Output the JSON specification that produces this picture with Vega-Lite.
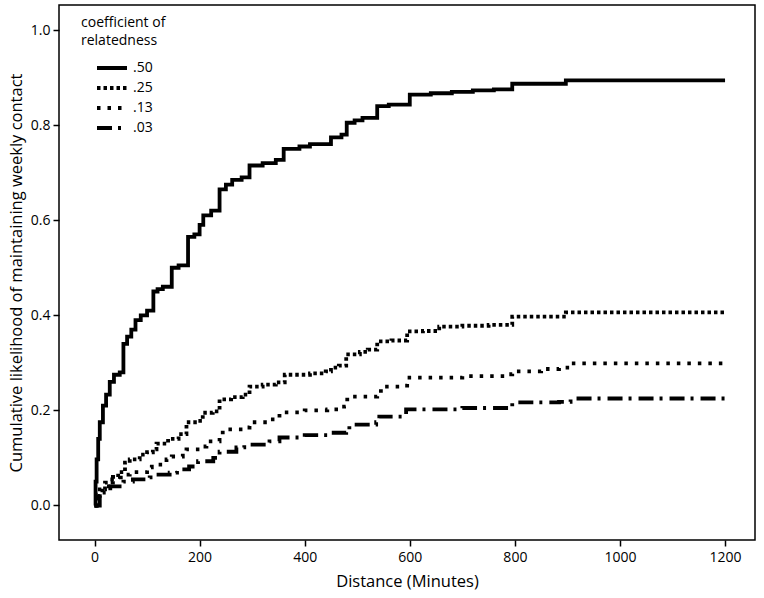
{
  "$schema": "https://vega.github.io/schema/vega-lite/v6.json",
  "width": 696,
  "height": 535,
  "autosize": {"type": "none"},
  "padding": {"left": 59, "top": 5, "right": 9, "bottom": 58},
  "background": "white",
  "config": {
    "font": "Open Sans",
    "view": {"stroke": "black", "strokeWidth": 1.5},
    "axis": {
      "grid": false,
      "domain": false,
      "tickColor": "black",
      "tickWidth": 1.5,
      "tickSize": 6,
      "labelColor": "black",
      "labelFontSize": 14,
      "titleColor": "black",
      "titleFontSize": 16.5,
      "titleFontWeight": "normal"
    }
  },
  "data": {
    "values": [
      {"c": ".50", "d": 0, "p": 0}, {"c": ".50", "d": 2, "p": 0.05}, {"c": ".50", "d": 4, "p": 0.097}, {"c": ".50", "d": 7, "p": 0.14},
      {"c": ".50", "d": 10, "p": 0.175}, {"c": ".50", "d": 16, "p": 0.21}, {"c": ".50", "d": 22, "p": 0.233}, {"c": ".50", "d": 29, "p": 0.26},
      {"c": ".50", "d": 37, "p": 0.275}, {"c": ".50", "d": 48, "p": 0.28}, {"c": ".50", "d": 55, "p": 0.34}, {"c": ".50", "d": 62, "p": 0.355},
      {"c": ".50", "d": 70, "p": 0.37}, {"c": ".50", "d": 78, "p": 0.39}, {"c": ".50", "d": 88, "p": 0.4}, {"c": ".50", "d": 100, "p": 0.41},
      {"c": ".50", "d": 112, "p": 0.45}, {"c": ".50", "d": 120, "p": 0.455}, {"c": ".50", "d": 130, "p": 0.46}, {"c": ".50", "d": 147, "p": 0.5},
      {"c": ".50", "d": 160, "p": 0.505}, {"c": ".50", "d": 178, "p": 0.565}, {"c": ".50", "d": 190, "p": 0.57}, {"c": ".50", "d": 200, "p": 0.59},
      {"c": ".50", "d": 207, "p": 0.61}, {"c": ".50", "d": 222, "p": 0.62}, {"c": ".50", "d": 238, "p": 0.665}, {"c": ".50", "d": 250, "p": 0.675},
      {"c": ".50", "d": 262, "p": 0.685}, {"c": ".50", "d": 280, "p": 0.69}, {"c": ".50", "d": 295, "p": 0.715}, {"c": ".50", "d": 320, "p": 0.72},
      {"c": ".50", "d": 345, "p": 0.727}, {"c": ".50", "d": 360, "p": 0.75}, {"c": ".50", "d": 390, "p": 0.755}, {"c": ".50", "d": 410, "p": 0.76},
      {"c": ".50", "d": 450, "p": 0.774}, {"c": ".50", "d": 470, "p": 0.78}, {"c": ".50", "d": 480, "p": 0.805}, {"c": ".50", "d": 495, "p": 0.81},
      {"c": ".50", "d": 510, "p": 0.815}, {"c": ".50", "d": 538, "p": 0.84}, {"c": ".50", "d": 560, "p": 0.843}, {"c": ".50", "d": 600, "p": 0.864},
      {"c": ".50", "d": 640, "p": 0.867}, {"c": ".50", "d": 680, "p": 0.87}, {"c": ".50", "d": 720, "p": 0.873}, {"c": ".50", "d": 760, "p": 0.875},
      {"c": ".50", "d": 795, "p": 0.887}, {"c": ".50", "d": 897, "p": 0.894}, {"c": ".50", "d": 1200, "p": 0.894},

      {"c": ".25", "d": 0, "p": 0}, {"c": ".25", "d": 3, "p": 0.02}, {"c": ".25", "d": 10, "p": 0.034}, {"c": ".25", "d": 20, "p": 0.048},
      {"c": ".25", "d": 35, "p": 0.06}, {"c": ".25", "d": 45, "p": 0.07}, {"c": ".25", "d": 58, "p": 0.09}, {"c": ".25", "d": 67, "p": 0.097},
      {"c": ".25", "d": 86, "p": 0.107}, {"c": ".25", "d": 100, "p": 0.112}, {"c": ".25", "d": 111, "p": 0.118}, {"c": ".25", "d": 118, "p": 0.13},
      {"c": ".25", "d": 140, "p": 0.14}, {"c": ".25", "d": 160, "p": 0.15}, {"c": ".25", "d": 175, "p": 0.175}, {"c": ".25", "d": 195, "p": 0.178},
      {"c": ".25", "d": 206, "p": 0.195}, {"c": ".25", "d": 225, "p": 0.198}, {"c": ".25", "d": 238, "p": 0.223}, {"c": ".25", "d": 260, "p": 0.228},
      {"c": ".25", "d": 282, "p": 0.233}, {"c": ".25", "d": 295, "p": 0.25}, {"c": ".25", "d": 320, "p": 0.254}, {"c": ".25", "d": 345, "p": 0.259},
      {"c": ".25", "d": 362, "p": 0.275}, {"c": ".25", "d": 410, "p": 0.278}, {"c": ".25", "d": 440, "p": 0.282}, {"c": ".25", "d": 450, "p": 0.29},
      {"c": ".25", "d": 465, "p": 0.294}, {"c": ".25", "d": 479, "p": 0.318}, {"c": ".25", "d": 505, "p": 0.323}, {"c": ".25", "d": 520, "p": 0.328},
      {"c": ".25", "d": 538, "p": 0.345}, {"c": ".25", "d": 565, "p": 0.347}, {"c": ".25", "d": 595, "p": 0.366}, {"c": ".25", "d": 625, "p": 0.367},
      {"c": ".25", "d": 656, "p": 0.376}, {"c": ".25", "d": 700, "p": 0.378}, {"c": ".25", "d": 750, "p": 0.38}, {"c": ".25", "d": 795, "p": 0.397},
      {"c": ".25", "d": 897, "p": 0.406}, {"c": ".25", "d": 1200, "p": 0.406},

      {"c": ".13", "d": 0, "p": 0}, {"c": ".13", "d": 5, "p": 0.023}, {"c": ".13", "d": 15, "p": 0.04}, {"c": ".13", "d": 30, "p": 0.055},
      {"c": ".13", "d": 50, "p": 0.065}, {"c": ".13", "d": 67, "p": 0.07}, {"c": ".13", "d": 100, "p": 0.08}, {"c": ".13", "d": 109, "p": 0.086},
      {"c": ".13", "d": 137, "p": 0.097}, {"c": ".13", "d": 147, "p": 0.103}, {"c": ".13", "d": 168, "p": 0.111}, {"c": ".13", "d": 175, "p": 0.118},
      {"c": ".13", "d": 200, "p": 0.124}, {"c": ".13", "d": 213, "p": 0.135}, {"c": ".13", "d": 238, "p": 0.143}, {"c": ".13", "d": 244, "p": 0.16},
      {"c": ".13", "d": 282, "p": 0.164}, {"c": ".13", "d": 295, "p": 0.175}, {"c": ".13", "d": 333, "p": 0.181}, {"c": ".13", "d": 352, "p": 0.196},
      {"c": ".13", "d": 400, "p": 0.2}, {"c": ".13", "d": 443, "p": 0.202}, {"c": ".13", "d": 475, "p": 0.208}, {"c": ".13", "d": 481, "p": 0.229},
      {"c": ".13", "d": 538, "p": 0.233}, {"c": ".13", "d": 545, "p": 0.25}, {"c": ".13", "d": 586, "p": 0.252}, {"c": ".13", "d": 595, "p": 0.269},
      {"c": ".13", "d": 700, "p": 0.272}, {"c": ".13", "d": 789, "p": 0.276}, {"c": ".13", "d": 795, "p": 0.282}, {"c": ".13", "d": 850, "p": 0.287},
      {"c": ".13", "d": 884, "p": 0.29}, {"c": ".13", "d": 905, "p": 0.299}, {"c": ".13", "d": 1200, "p": 0.299},

      {"c": ".03", "d": 0, "p": 0}, {"c": ".03", "d": 10, "p": 0.027}, {"c": ".03", "d": 30, "p": 0.04}, {"c": ".03", "d": 55, "p": 0.05},
      {"c": ".03", "d": 73, "p": 0.055}, {"c": ".03", "d": 105, "p": 0.059}, {"c": ".03", "d": 118, "p": 0.065}, {"c": ".03", "d": 143, "p": 0.069},
      {"c": ".03", "d": 157, "p": 0.076}, {"c": ".03", "d": 180, "p": 0.082}, {"c": ".03", "d": 197, "p": 0.093}, {"c": ".03", "d": 226, "p": 0.1},
      {"c": ".03", "d": 238, "p": 0.113}, {"c": ".03", "d": 270, "p": 0.122}, {"c": ".03", "d": 285, "p": 0.128}, {"c": ".03", "d": 333, "p": 0.135},
      {"c": ".03", "d": 352, "p": 0.143}, {"c": ".03", "d": 400, "p": 0.148}, {"c": ".03", "d": 443, "p": 0.153}, {"c": ".03", "d": 479, "p": 0.156},
      {"c": ".03", "d": 485, "p": 0.17}, {"c": ".03", "d": 536, "p": 0.175}, {"c": ".03", "d": 542, "p": 0.187}, {"c": ".03", "d": 586, "p": 0.189},
      {"c": ".03", "d": 593, "p": 0.202}, {"c": ".03", "d": 700, "p": 0.205}, {"c": ".03", "d": 789, "p": 0.208}, {"c": ".03", "d": 795, "p": 0.217},
      {"c": ".03", "d": 884, "p": 0.218}, {"c": ".03", "d": 906, "p": 0.225}, {"c": ".03", "d": 1200, "p": 0.225}
    ]
  },
  "mark": {"type": "line", "interpolate": "step-after", "color": "black", "strokeWidth": 3.8, "strokeCap": "butt"},
  "encoding": {
    "x": {
      "field": "d",
      "type": "quantitative",
      "scale": {"domain": [-67.6, 1257], "nice": false, "zero": false},
      "axis": {"values": [0, 200, 400, 600, 800, 1000, 1200], "format": "d", "title": "Distance (Minutes)", "labelPadding": 4, "titlePadding": 9}
    },
    "y": {
      "field": "p",
      "type": "quantitative",
      "scale": {"domain": [-0.0726, 1.0526], "nice": false, "zero": false},
      "axis": {"values": [0, 0.2, 0.4, 0.6, 0.8, 1.0], "format": ".1f", "title": "Cumulative likelihood of maintaining weekly contact", "labelPadding": 3, "titlePadding": 6}
    },
    "strokeDash": {
      "field": "c",
      "type": "nominal",
      "scale": {"domain": [".50", ".25", ".13", ".03"], "range": [[1, 0], [3.5, 3], [3.5, 7], [15, 6, 3, 7]]},
      "legend": {
        "orient": "none",
        "legendX": 22,
        "legendY": 11,
        "title": ["coefficient of", "relatedness"],
        "titleFontSize": 14,
        "titleFontWeight": "normal",
        "titleColor": "black",
        "titleLineHeight": 18,
        "titlePadding": 13,
        "labelFontSize": 14,
        "labelColor": "black",
        "labelOffset": 14,
        "symbolType": "M-3,0L3,0",
        "symbolSize": 100,
        "symbolFillColor": "transparent",
        "symbolStrokeColor": "black",
        "symbolStrokeWidth": 3.8,
        "symbolOffset": 24,
        "rowPadding": 4
      }
    }
  }
}
